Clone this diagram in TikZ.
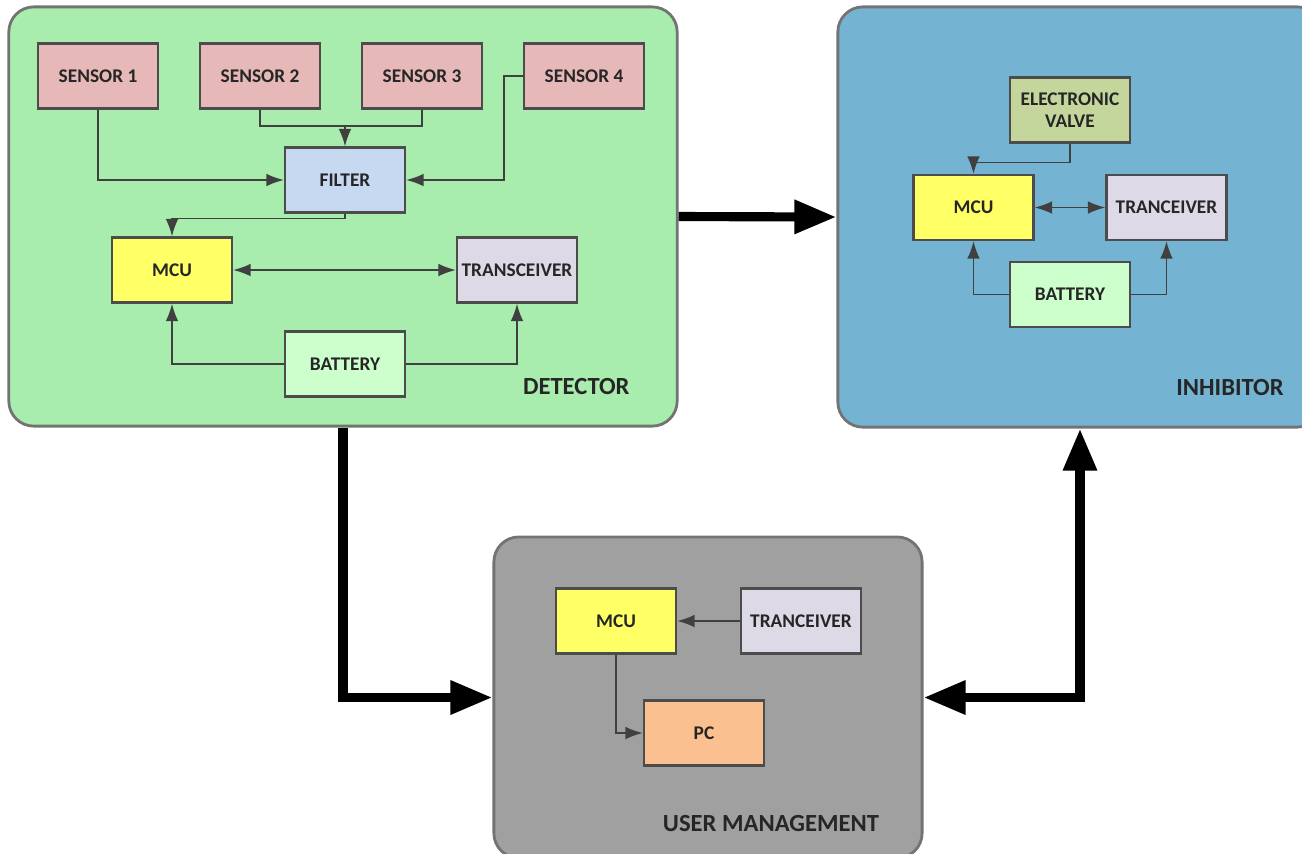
\documentclass[tikz,border=0pt]{standalone}
\usepackage{fontspec}
\setmainfont{Carlito}
\usetikzlibrary{arrows.meta}

\definecolor{detgreen}{RGB}{168,236,174}
\definecolor{inhblue}{RGB}{116,180,210}
\definecolor{usergray}{RGB}{160,160,160}
\definecolor{sensorred}{RGB}{230,184,183}
\definecolor{filterblue}{RGB}{198,217,240}
\definecolor{mcuyellow}{RGB}{255,255,102}
\definecolor{trxlilac}{RGB}{221,217,230}
\definecolor{batgreen}{RGB}{204,255,204}
\definecolor{valveolive}{RGB}{196,214,156}
\definecolor{pcorange}{RGB}{250,192,144}

\tikzset{
  unit/.style={draw=black!70, line width=0.6pt, minimum width=1.2cm, minimum height=0.65cm,
    inner sep=0pt, align=center, text=black!85, font=\bfseries\fontsize{5.5}{6.2}\selectfont},
  block/.style={draw=black!55, line width=0.8pt, rounded corners=0.25cm, inner sep=0pt},
  blocklabel/.style={text=black!85, font=\bfseries\fontsize{7}{8}\selectfont},
  wire/.style={draw=black!75, line width=0.5pt, ->},
  bigtip/.tip={Triangle[length=0.42cm,width=0.32cm]},
  bigarrow/.style={line width=2.6pt, -bigtip},
}

\begin{document}
\begin{tikzpicture}[x=0.01cm, y=-0.01cm, >={Latex[length=5pt,width=3.6pt]}]
        \useasboundingbox (0,0) rectangle (1302,853);

        % Los tres bloques grandes
        \node[block, fill=detgreen, minimum width=6.68cm, minimum height=4.19cm] (det) at (343,216.5) {};
        \node[block, fill=inhblue, minimum width=4.84cm, minimum height=4.2cm] (inh) at (1080,217) {};
        \node[block, fill=usergray, minimum width=4.28cm, minimum height=3.21cm] (um) at (708,697.5) {};

        % Etiquetas de los bloques
        \node[blocklabel, anchor=east] (detlabel) at (642,386) {DETECTOR};
        \node[blocklabel] (inhlabel) at (1230,387) {INHIBITOR};
        \node[blocklabel] (umlabel) at (771,823) {USER MANAGEMENT};

        % Detector
        \node[unit, fill=sensorred] (s1) at (98,76) {SENSOR 1};
        \node[unit, fill=sensorred] (s2) at (260,76) {SENSOR 2};
        \node[unit, fill=sensorred] (s3) at (422,76) {SENSOR 3};
        \node[unit, fill=sensorred] (s4) at (584,76) {SENSOR 4};
        \node[unit, fill=filterblue] (filter) at (345,180) {FILTER};
        \node[unit, fill=mcuyellow] (dmcu) at (172,270) {MCU};
        \node[unit, fill=trxlilac] (dtrx) at (517,270) {TRANSCEIVER};
        \node[unit, fill=batgreen] (dbat) at (345,364) {BATTERY};

        \coordinate (j23) at (345,126);
        \coordinate (c4) at (504,180);
        \draw[wire] (s1.south) |- (filter.west);
        \draw[wire, -] (s2.south) |- (j23) -| (s3.south);
        \draw[wire] (j23) -- (filter.north);
        \draw[wire] (s4.west) -| (c4) -- (filter.east);
        \draw[wire] (filter.south) -- ++(0,5) -| (dmcu.north);
        \draw[wire, <->] (dmcu.east) -- (dtrx.west);
        \draw[wire] (dbat.west) -| (dmcu.south);
        \draw[wire] (dbat.east) -| (dtrx.south);

        % Inhibidor
        \node[unit, fill=valveolive] (valve) at (1070,110) {ELECTRONIC\\VALVE};
        \node[unit, fill=mcuyellow] (imcu) at (973.5,207.5) {MCU};
        \node[unit, fill=trxlilac] (itrx) at (1166.5,207.5) {TRANCEIVER};
        \node[unit, fill=batgreen] (ibat) at (1070,294.5) {BATTERY};

        \draw[wire] (valve.south) -- ++(0,19) -| (imcu.north);
        \draw[wire, <->] (imcu.east) -- (itrx.west);
        \draw[wire] (ibat.west) -| (imcu.south);
        \draw[wire] (ibat.east) -| (itrx.south);

        % Gestion de usuario
        \node[unit, fill=mcuyellow] (umcu) at (616,621) {MCU};
        \node[unit, fill=trxlilac] (utrx) at (801,621) {TRANCEIVER};
        \node[unit, fill=pcorange] (pc) at (704,733) {PC};

        \draw[wire] (utrx.west) -- (umcu.east);
        \draw[wire] (umcu.south) |- (pc.west);

        % Flechas gruesas entre bloques
        \draw[bigarrow] (det.east) -- (inh.west);
        \draw[bigarrow] (det.south) |- (um.west);
        \draw[bigarrow, bigtip-bigtip] (um.east) -| (inh.south);
\end{tikzpicture}
\end{document}
